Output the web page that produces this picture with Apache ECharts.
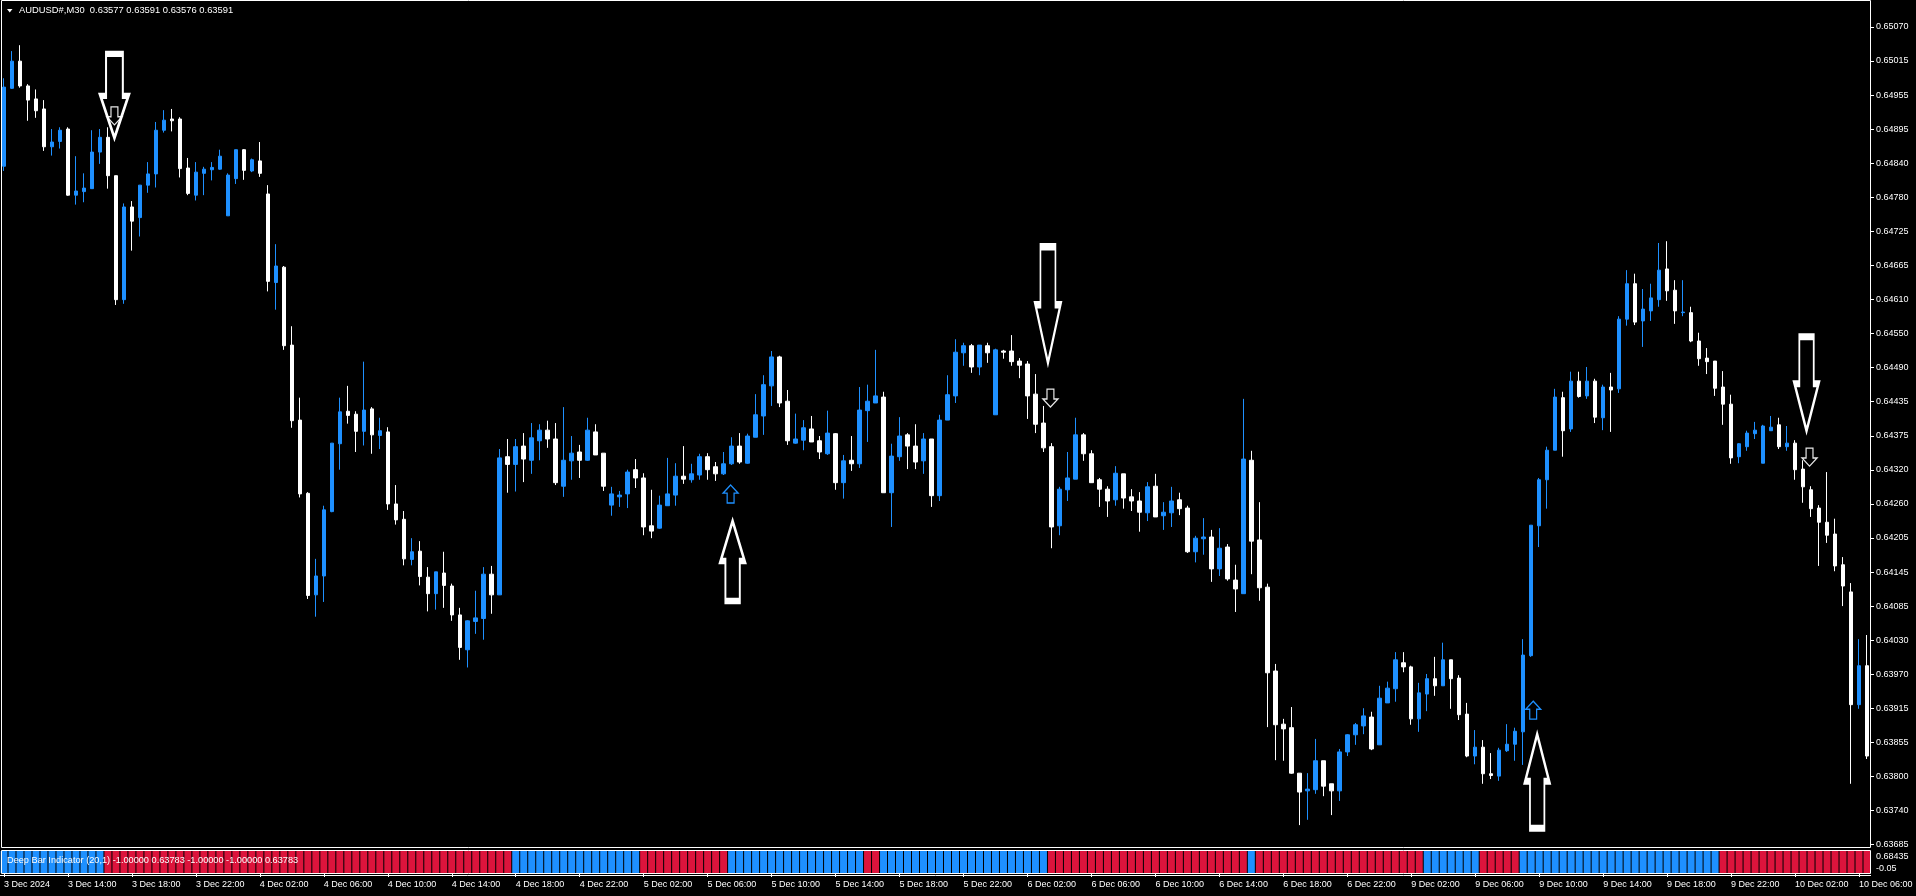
<!DOCTYPE html>
<html><head><meta charset="utf-8">
<script src="https://cdn.jsdelivr.net/npm/echarts@6/dist/echarts.min.js"></script>
<style>html,body{margin:0;padding:0;background:#000;overflow:hidden}#c{width:1916px;height:896px}</style>
</head><body><div id="c"></div>
<script>
// ---------------- data ----------------
const symbolTitle = 'AUDUSD#,M30  0.63577 0.63591 0.63576 0.63591';
const indicatorTitle = 'Deep Bar Indicator (20,1) -1.00000 0.63783 -1.00000 -1.00000 0.63783';

const opens = [
0.64834,0.64966,0.65012,0.64970,0.64948,0.64931,0.64867,0.64876,0.64897,0.64785,
0.64791,0.64796,0.64858,0.64883,0.64818,0.64608,0.64765,0.64747,0.64802,0.64821,
0.64895,0.64914,0.64914,0.64831,0.64785,0.64822,0.64828,0.64829,0.64750,0.64813,
0.64862,0.64826,0.64843,0.64787,0.64637,0.64663,0.64531,0.64404,0.64280,0.64108,
0.64140,0.64249,0.64364,0.64419,0.64414,0.64385,0.64423,0.64378,0.64384,0.64262,
0.64236,0.64168,0.64182,0.64138,0.64110,0.64145,0.64123,0.64074,0.64015,0.64063,
0.64068,0.64143,0.64108,0.64342,0.64329,0.64360,0.64336,0.64369,0.64387,0.64372,
0.64292,0.64335,0.64350,0.64336,0.64384,0.64348,0.64260,0.64274,0.64279,0.64320,
0.64306,0.64225,0.64221,0.64259,0.64277,0.64309,0.64303,0.64311,0.64342,0.64325,
0.64313,0.64330,0.64360,0.64331,0.64375,0.64411,0.64462,0.64511,0.64436,0.64365,
0.64370,0.64389,0.64369,0.64347,0.64381,0.64298,0.64336,0.64330,0.64420,0.64433,
0.64443,0.64281,0.64342,0.64379,0.64360,0.64335,0.64372,0.64276,0.64404,0.64445,
0.64518,0.64530,0.64494,0.64530,0.64413,0.64521,0.64521,0.64504,0.64499,0.64448,
0.64399,0.64359,0.64225,0.64286,0.64304,0.64379,0.64347,0.64303,0.64287,0.64269,
0.64313,0.64274,0.64267,0.64247,0.64292,0.64242,0.64247,0.64269,0.64255,0.64181,
0.64203,0.64206,0.64152,0.64189,0.64133,0.64110,0.64336,0.64201,0.64121,0.63979,
0.63889,0.63883,0.63806,0.63776,0.63778,0.63827,0.63788,0.63776,0.63842,0.63871,
0.63886,0.63901,0.63854,0.63925,0.63949,0.63993,0.63986,0.63898,0.63940,0.63966,
0.63954,0.63998,0.63967,0.63906,0.63835,0.63850,0.63805,0.63801,0.63844,0.63855,
0.63876,0.64005,0.64225,0.64303,0.64353,0.64442,0.64389,0.64470,0.64445,0.64470,
0.64408,0.64460,0.64457,0.64575,0.64635,0.64572,0.64589,0.64608,0.64660,0.64624,
0.64586,0.64586,0.64538,0.64509,0.64504,0.64460,0.64431,0.64342,0.64359,0.64381,
0.64331,0.64386,0.64396,0.64359,0.64365,0.64321,0.64286,0.64255,0.64231,0.64211,
0.64159,0.64113,0.63922,0.63988];

const closes = [
0.64968,0.65012,0.64970,0.64946,0.64928,0.64867,0.64875,0.64895,0.64785,0.64792,
0.64797,0.64858,0.64883,0.64818,0.64608,0.64765,0.64741,0.64802,0.64821,0.64895,
0.64912,0.64911,0.64830,0.64788,0.64824,0.64829,0.64832,0.64851,0.64819,0.64862,
0.64827,0.64845,0.64822,0.64639,0.64665,0.64530,0.64403,0.64279,0.64107,0.64140,
0.64252,0.64365,0.64418,0.64412,0.64385,0.64421,0.64379,0.64386,0.64262,0.64235,
0.64169,0.64181,0.64139,0.64110,0.64147,0.64124,0.64074,0.64019,0.64064,0.64069,
0.64143,0.64108,0.64340,0.64329,0.64359,0.64338,0.64374,0.64387,0.64372,0.64298,
0.64336,0.64348,0.64336,0.64387,0.64345,0.64292,0.64279,0.64277,0.64316,0.64306,
0.64223,0.64216,0.64260,0.64279,0.64309,0.64304,0.64313,0.64342,0.64320,0.64313,
0.64330,0.64360,0.64333,0.64377,0.64413,0.64464,0.64511,0.64433,0.64369,0.64372,
0.64391,0.64367,0.64350,0.64382,0.64298,0.64335,0.64330,0.64421,0.64436,0.64445,
0.64281,0.64343,0.64377,0.64360,0.64333,0.64372,0.64276,0.64404,0.64447,0.64519,
0.64530,0.64494,0.64531,0.64518,0.64523,0.64519,0.64503,0.64497,0.64445,0.64397,
0.64357,0.64223,0.64287,0.64306,0.64379,0.64347,0.64298,0.64287,0.64267,0.64314,
0.64272,0.64267,0.64248,0.64291,0.64240,0.64248,0.64267,0.64254,0.64181,0.64204,
0.64206,0.64152,0.64187,0.64135,0.64118,0.64338,0.64199,0.64120,0.63976,0.63888,
0.63881,0.63806,0.63774,0.63779,0.63827,0.63784,0.63776,0.63842,0.63871,0.63888,
0.63903,0.63847,0.63933,0.63950,0.63998,0.63986,0.63898,0.63942,0.63966,0.63954,
0.63998,0.63966,0.63905,0.63835,0.63850,0.63805,0.63802,0.63845,0.63855,0.63877,
0.64006,0.64226,0.64303,0.64353,0.64443,0.64386,0.64470,0.64444,0.64470,0.64409,
0.64460,0.64455,0.64575,0.64635,0.64570,0.64592,0.64611,0.64658,0.64623,0.64589,
0.64587,0.64538,0.64508,0.64503,0.64458,0.64431,0.64340,0.64364,0.64382,0.64387,
0.64394,0.64392,0.64359,0.64365,0.64320,0.64291,0.64254,0.64231,0.64209,0.64157,
0.64123,0.63922,0.63988,0.63835];

const lows = [
0.64826,0.64965,0.64967,0.64911,0.64916,0.64860,0.64852,0.64864,0.64784,0.64769,
0.64773,0.64796,0.64838,0.64796,0.64599,0.64601,0.64691,0.64715,0.64789,0.64798,
0.64891,0.64893,0.64815,0.64785,0.64776,0.64785,0.64810,0.64828,0.64750,0.64804,
0.64811,0.64824,0.64816,0.64622,0.64591,0.64523,0.64391,0.64273,0.64101,0.64071,
0.64096,0.64248,0.64320,0.64398,0.64350,0.64361,0.64347,0.64355,0.64252,0.64227,
0.64158,0.64158,0.64124,0.64080,0.64083,0.64086,0.64064,0.63998,0.63985,0.64042,
0.64032,0.64076,0.64108,0.64281,0.64283,0.64299,0.64313,0.64336,0.64357,0.64294,
0.64274,0.64303,0.64306,0.64335,0.64345,0.64284,0.64242,0.64257,0.64255,0.64289,
0.64209,0.64204,0.64220,0.64259,0.64259,0.64296,0.64298,0.64303,0.64303,0.64301,
0.64311,0.64328,0.64330,0.64330,0.64375,0.64379,0.64428,0.64426,0.64362,0.64364,
0.64353,0.64367,0.64338,0.64345,0.64286,0.64271,0.64318,0.64323,0.64367,0.64433,
0.64281,0.64223,0.64335,0.64321,0.64321,0.64313,0.64257,0.64267,0.64404,0.64433,
0.64496,0.64484,0.64480,0.64501,0.64413,0.64508,0.64496,0.64475,0.64406,0.64382,
0.64350,0.64187,0.64209,0.64267,0.64304,0.64335,0.64298,0.64257,0.64240,0.64259,
0.64254,0.64250,0.64215,0.64233,0.64240,0.64218,0.64223,0.64243,0.64179,0.64163,
0.64176,0.64130,0.64140,0.64132,0.64079,0.64110,0.64143,0.64098,0.63884,0.63828,
0.63827,0.63805,0.63718,0.63727,0.63771,0.63767,0.63735,0.63759,0.63835,0.63854,
0.63872,0.63845,0.63854,0.63925,0.63927,0.63977,0.63888,0.63876,0.63911,0.63937,
0.63954,0.63915,0.63896,0.63833,0.63821,0.63788,0.63796,0.63793,0.63842,0.63827,
0.63820,0.64003,0.64189,0.64254,0.64353,0.64342,0.64384,0.64442,0.64440,0.64399,
0.64387,0.64384,0.64450,0.64564,0.64565,0.64528,0.64572,0.64596,0.64606,0.64567,
0.64580,0.64536,0.64496,0.64482,0.64445,0.64396,0.64330,0.64331,0.64352,0.64372,
0.64331,0.64386,0.64355,0.64352,0.64303,0.64264,0.64240,0.64157,0.64196,0.64148,
0.64089,0.63788,0.63915,0.63830];

const highs = [
0.64983,0.65029,0.65039,0.64973,0.64964,0.64946,0.64897,0.64900,0.64900,0.64851,
0.64822,0.64895,0.64897,0.64900,0.64818,0.64771,0.64775,0.64802,0.64841,0.64909,
0.64929,0.64931,0.64917,0.64848,0.64841,0.64833,0.64841,0.64862,0.64822,0.64862,
0.64863,0.64847,0.64875,0.64802,0.64702,0.64665,0.64563,0.64442,0.64282,0.64169,
0.64259,0.64365,0.64442,0.64462,0.64419,0.64503,0.64426,0.64408,0.64392,0.64294,
0.64250,0.64204,0.64199,0.64155,0.64147,0.64181,0.64127,0.64086,0.64065,0.64115,
0.64155,0.64157,0.64355,0.64372,0.64372,0.64382,0.64399,0.64397,0.64403,0.64399,
0.64426,0.64377,0.64362,0.64408,0.64397,0.64348,0.64291,0.64284,0.64320,0.64338,
0.64314,0.64286,0.64276,0.64340,0.64331,0.64360,0.64330,0.64347,0.64348,0.64333,
0.64350,0.64375,0.64382,0.64381,0.64448,0.64480,0.64521,0.64513,0.64455,0.64415,
0.64404,0.64411,0.64377,0.64420,0.64382,0.64345,0.64377,0.64460,0.64464,0.64523,
0.64452,0.64364,0.64409,0.64382,0.64397,0.64382,0.64372,0.64413,0.64480,0.64541,
0.64535,0.64533,0.64531,0.64535,0.64525,0.64523,0.64548,0.64509,0.64504,0.64482,
0.64428,0.64365,0.64291,0.64350,0.64408,0.64382,0.64353,0.64306,0.64292,0.64326,
0.64313,0.64287,0.64282,0.64299,0.64313,0.64265,0.64291,0.64281,0.64259,0.64208,
0.64238,0.64218,0.64221,0.64194,0.64159,0.64440,0.64352,0.64265,0.64127,0.63991,
0.63898,0.63918,0.63806,0.63806,0.63864,0.63827,0.63788,0.63847,0.63872,0.63891,
0.63916,0.63910,0.63954,0.63961,0.64011,0.64011,0.63988,0.63959,0.63974,0.64003,
0.64027,0.63998,0.63972,0.63925,0.63879,0.63862,0.63840,0.63849,0.63889,0.63883,
0.64033,0.64226,0.64306,0.64359,0.64457,0.64452,0.64486,0.64486,0.64494,0.64474,
0.64464,0.64484,0.64580,0.64658,0.64652,0.64626,0.64635,0.64704,0.64707,0.64641,
0.64641,0.64596,0.64552,0.64526,0.64504,0.64487,0.64447,0.64365,0.64386,0.64401,
0.64396,0.64411,0.64408,0.64394,0.64370,0.64336,0.64292,0.64260,0.64316,0.64237,
0.64172,0.64128,0.64033,0.64040];

// Deep Bar Indicator state per bar: [firstBar, lastBar, +1 blue / -1 red]
const deepBarRuns = [[0,12,1],[13,63,-1],[64,79,1],[80,90,-1],[91,107,1],[108,109,-1],
  [110,130,1],[131,155,-1],[156,156,1],[157,177,-1],[178,184,1],[185,189,-1],[190,214,1],[215,233,-1]];

// time-axis labels, one every 8 bars (4 hours of M30)
const timeLabels = ['3 Dec 2024','3 Dec 14:00','3 Dec 18:00','3 Dec 22:00','4 Dec 02:00','4 Dec 06:00',
 '4 Dec 10:00','4 Dec 14:00','4 Dec 18:00','4 Dec 22:00','5 Dec 02:00','5 Dec 06:00','5 Dec 10:00',
 '5 Dec 14:00','5 Dec 18:00','5 Dec 22:00','6 Dec 02:00','6 Dec 06:00','6 Dec 10:00','6 Dec 14:00',
 '6 Dec 18:00','6 Dec 22:00','9 Dec 02:00','9 Dec 06:00','9 Dec 10:00','9 Dec 14:00','9 Dec 18:00',
 '9 Dec 22:00','10 Dec 02:00','10 Dec 06:00'];

// price-axis labels, bottom to top
const priceLabels = ['0.63685','0.63740','0.63800','0.63855','0.63915','0.63970','0.64030','0.64085',
 '0.64145','0.64205','0.64260','0.64320','0.64375','0.64435','0.64490','0.64550','0.64610','0.64665',
 '0.64725','0.64780','0.64840','0.64895','0.64955','0.65015','0.65070'];

// signal arrows: bar index, tip price, direction
const bigArrows = [[14,0.64882,'down'],[91,0.64233,'up'],[131,0.64501,'down'],[192,0.63872,'up'],[225,0.64386,'down']];
const smallArrows = [[14,0.64904,'down'],[91,0.64294,'up'],[131,0.64426,'down'],[191,0.63928,'up'],[226,0.64326,'down']];

// ---------------- styles ----------------
const BLUE = '#1E90FF', WHITE = '#FFFFFF', RED = '#DC143C';
const FONT = "'Liberation Sans', Arial, sans-serif";
const N = opens.length;
const Y_MIN = 0.63685, Y_MAX = 0.65070;
const Y_STEP = (Y_MAX - Y_MIN) / (priceLabels.length - 1);
const yTickVals = priceLabels.map((_, k) => Y_MIN + k * Y_STEP);
const cats = Array.from({length: N}, (_, i) => String(i));
const deepBar = new Array(N).fill(0);
deepBarRuns.forEach(([a, b, v]) => { for (let i = a; i <= b; i++) deepBar[i] = v; });

const bigSize = {14:[28,84,-1.5],91:[24,80,1],131:[25,116,-3.5],192:[24,94,-2],225:[24,94,3.5]};
const smallDx = {14:-1.5,91:-1,131:-1,191:2,226:-1.5};
const P_DOWN = 'path://M20,0L80,0L80,50L100,50L50,100L0,50L20,50Z';
const P_UP = 'path://M50,0L100,50L80,50L80,100L20,100L20,50L0,50Z';
const S_DOWN = 'path://M27,0L73,0L73,55L100,55L50,100L0,55L27,55Z';
const S_UP = 'path://M50,0L100,45L73,45L73,100L27,100L27,45L0,45Z';

const markData = [];
smallArrows.forEach(([i, p, d]) => {
  markData.push({coord: [i, p], symbol: d === 'down' ? S_DOWN : S_UP, symbolSize: [15, 18],
    symbolOffset: [smallDx[i], d === 'down' ? -9 : 9],
    itemStyle: {color: 'rgba(0,0,0,0)', borderColor: d === 'down' ? '#e8e8e8' : BLUE, borderWidth: 1.3}});
});
bigArrows.forEach(([i, p, d]) => {
  const [w, h, dx] = bigSize[i];
  markData.push({coord: [i, p], symbol: d === 'down' ? P_DOWN : P_UP, symbolSize: [w, h],
    symbolOffset: [dx, d === 'down' ? -h / 2 : h / 2],
    itemStyle: {color: 'rgba(0,0,0,0)', borderColor: WHITE, borderWidth: 3.5}});
});

const chart = echarts.init(document.getElementById('c'), null, {renderer: 'canvas'});
chart.setOption({
  animation: false,
  backgroundColor: '#000',
  grid: [
    {left: 0, right: 45, top: 26.9, bottom: 51.4},
    {left: 0, right: 45, top: 851, height: 22}
  ],
  xAxis: [
    {type: 'category', gridIndex: 0, data: cats, boundaryGap: true, show: false},
    {type: 'category', gridIndex: 1, data: cats, boundaryGap: true, position: 'bottom', offset: 2,
      axisLine: {show: false},
      axisTick: {show: true, alignWithLabel: true, length: 4, interval: (i) => i % 8 === 0, lineStyle: {color: WHITE}},
      axisLabel: {show: true, interval: (i) => i % 8 === 0, align: 'left', margin: 5, color: WHITE,
        fontFamily: FONT, fontSize: 9, formatter: (v, i) => timeLabels[Math.round(i / 8)] || ''},
      splitLine: {show: false}}
  ],
  yAxis: [
    {type: 'value', gridIndex: 0, position: 'right', min: Y_MIN, max: Y_MAX, scale: true,
      splitLine: {show: false}, axisLine: {show: false},
      axisTick: {show: true, inside: false, length: 3, customValues: yTickVals, lineStyle: {color: WHITE}},
      axisLabel: {show: true, margin: 5, color: WHITE, fontFamily: FONT, fontSize: 9, customValues: yTickVals,
        formatter: (v) => priceLabels[Math.round((v - Y_MIN) / Y_STEP)] || ''}},
    {type: 'value', gridIndex: 1, min: 0, max: 1, show: false}
  ],
  series: [
    {type: 'candlestick', xAxisIndex: 0, yAxisIndex: 0, silent: true, barWidth: 4,
      data: opens.map((o, i) => [o, closes[i], lows[i], highs[i]]),
      itemStyle: {color: BLUE, color0: WHITE, borderColor: BLUE, borderColor0: WHITE, borderWidth: 1},
      markPoint: {silent: true, label: {show: false}, data: markData}},
    {type: 'bar', xAxisIndex: 1, yAxisIndex: 1, silent: true, barWidth: 7,
      data: deepBar.map(v => ({value: 1, itemStyle: {color: v > 0 ? BLUE : RED}}))}
  ],
  graphic: [
    {type: 'rect', silent: true, z: 100, shape: {x: 1.5, y: 0.5, width: 1869, height: 847}, style: {fill: null, stroke: WHITE, lineWidth: 1}},
    {type: 'rect', silent: true, z: 100, shape: {x: 1.5, y: 850.5, width: 1869, height: 23}, style: {fill: null, stroke: WHITE, lineWidth: 1}},
    {type: 'line', silent: true, z: 100, shape: {x1: 0, y1: 875.5, x2: 1871, y2: 875.5}, style: {stroke: WHITE, lineWidth: 1}},
    {type: 'polygon', silent: true, z: 100, shape: {points: [[7, 9], [12.5, 9], [9.75, 12.5]]}, style: {fill: WHITE}},
    {type: 'text', silent: true, z: 100, x: 19, y: 10.7, style: {text: symbolTitle, fill: WHITE, font: '9.4px ' + FONT, verticalAlign: 'middle'}},
    {type: 'text', silent: true, z: 100, x: 7, y: 860.5, style: {text: indicatorTitle, fill: WHITE, font: '9.2px ' + FONT, verticalAlign: 'middle'}},
    {type: 'text', silent: true, z: 100, x: 1876, y: 857, style: {text: '0.68435', fill: WHITE, font: '9px ' + FONT, verticalAlign: 'middle'}},
    {type: 'text', silent: true, z: 100, x: 1876, y: 868.5, style: {text: '-0.05', fill: WHITE, font: '9px ' + FONT, verticalAlign: 'middle'}}
  ]
});
</script></body></html>
